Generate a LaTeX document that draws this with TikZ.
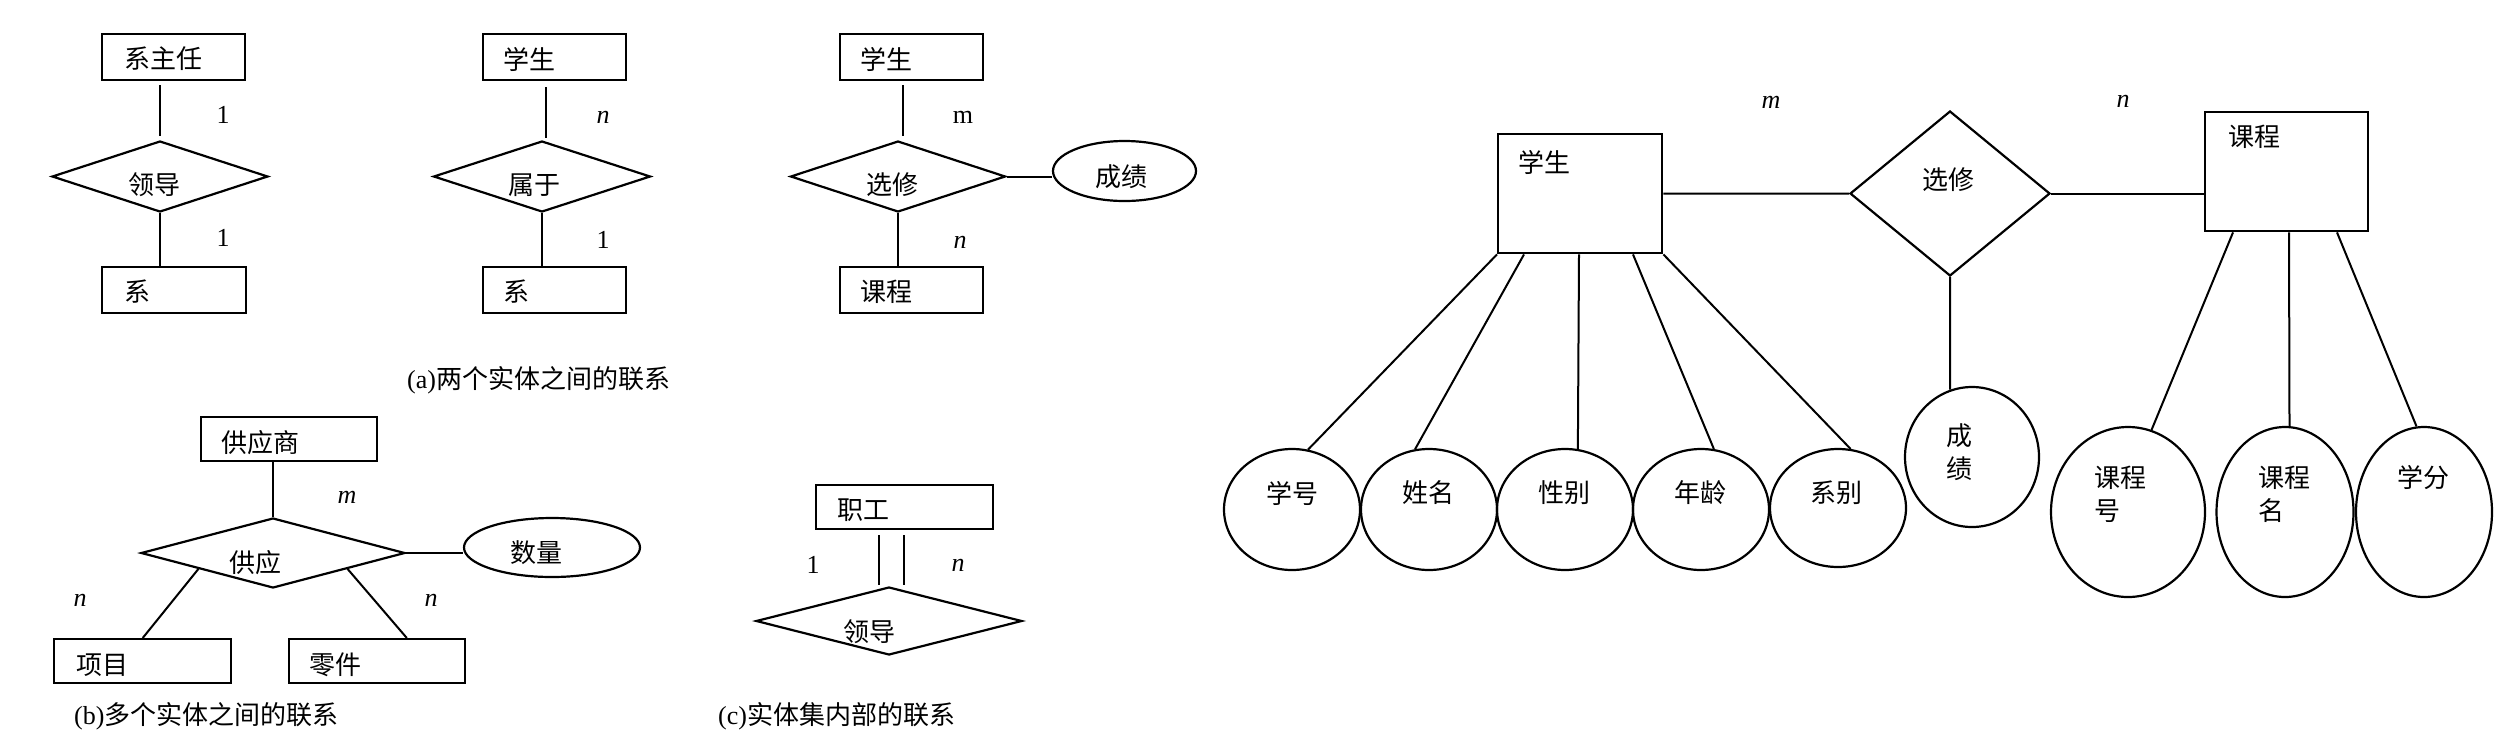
\documentclass[tikz,border=0pt]{standalone}
\usepackage{fontspec}
\setmainfont{Liberation Serif}
\newfontfamily\cjk{Noto Sans CJK SC}
\usetikzlibrary{shapes.geometric,calc}
\begin{document}
\begin{tikzpicture}[x=1pt,y=-1pt,
  font=\fontsize{26}{31}\selectfont,
  ent/.style={draw, rectangle, line width=2.4pt, inner sep=0pt, anchor=north west},
  rel/.style={draw, diamond, line width=2.2pt, inner sep=0pt},
  attr/.style={draw, ellipse, line width=2.2pt, inner sep=0pt},
  ln/.style={line width=2pt},
  ct/.style={inner sep=0pt, anchor=west, font=\cjk\fontsize{26}{34}\selectfont},
  cc/.style={inner sep=0pt, anchor=center, font=\cjk\fontsize{26}{34}\selectfont},
  ml/.style={inner sep=0pt, anchor=north west, align=left, font=\cjk\fontsize{26}{33}\selectfont},
  lab/.style={inner sep=0pt, anchor=center},
  captxt/.style={inner sep=0pt, anchor=base west, font=\fontsize{26}{31}\selectfont}
]
\path[use as bounding box, fill=white] (0,0) rectangle (2516,740);

% ---------- (a1) ----------
\node[ent, minimum width=143, minimum height=46] (zr) at (101,33) {};
\node[ct] (tzr) at (124,59) {系主任};
\node[rel, minimum width=216, minimum height=71] (d1) at (160,176.5) {};
\node[cc] (td1) at (154,185) {领导};
\node[ent, minimum width=144, minimum height=46] (x1) at (101,266) {};
\node[ct] (tx1) at (124,292) {系};
\draw[ln, shorten <=4pt, shorten >=4pt] (d1.north |- zr.south) -- (d1.north);
\draw[ln] (d1.south) -- (d1.south |- x1.north);
\node[lab] (l1a) at (223,115) {1};
\node[lab] (l1b) at (223,238) {1};

% ---------- (a2) ----------
\node[ent, minimum width=143, minimum height=46] (s2) at (482,33) {};
\node[ct] (ts2) at (503,59) {学生};
\node[rel, minimum width=217, minimum height=71] (d2) at (542,176.5) {};
\node[cc] (td2) at (534,185) {属于};
\node[ent, minimum width=143, minimum height=46] (x2) at (482,266) {};
\node[ct] (tx2) at (503,292) {系};
\draw[ln, shorten <=6pt, shorten >=2pt] ([xshift=4pt]d2.north |- s2.south) -- ([xshift=4pt]d2.north);
\draw[ln] (d2.south) -- (d2.south |- x2.north);
\node[lab] (l2a) at (603,117) {\itshape n};
\node[lab] (l2b) at (603,240) {1};

% ---------- (a3) ----------
\node[ent, minimum width=143, minimum height=46] (s3) at (839,33) {};
\node[ct] (ts3) at (860,59) {学生};
\node[rel, minimum width=215, minimum height=71] (d3) at (898,176.5) {};
\node[cc] (td3) at (892,185) {选修};
\node[ent, minimum width=143, minimum height=46] (k3) at (839,266) {};
\node[ct] (tk3) at (860,292) {课程};
\node[attr, minimum width=143, minimum height=60] (cj3) at (1124.5,171) {};
\node[cc] (tcj3) at (1121,177) {成绩};
\draw[ln, shorten <=4pt, shorten >=4pt] ([xshift=5pt]d3.north |- s3.south) -- ([xshift=5pt]d3.north);
\draw[ln] (d3.south) -- (d3.south |- k3.north);
\draw[ln] (d3.east) -- (d3.east -| cj3.west);
\node[lab] (l3a) at (963,117) {m};
\node[lab] (l3b) at (960,242) {\itshape n};

\node[captxt] (capa) at (407,388) {(a)\cjk 两个实体之间的联系};

% ---------- (b) ----------
\node[ent, minimum width=176, minimum height=44] (gys) at (199.5,416) {};
\node[ct] (tgys) at (221,443) {供应商};
\node[rel, minimum width=264, minimum height=70] (d4) at (273,553) {};
\node[cc] (td4) at (255,563) {供应};
\node[attr, minimum width=176, minimum height=59] (sl) at (552,547.5) {};
\node[cc] (tsl) at (536,553) {数量};
\node[ent, minimum width=177, minimum height=44] (xm) at (53,638) {};
\node[ct] (txm) at (76,665) {项目};
\node[ent, minimum width=176.5, minimum height=44] (lj) at (287.5,638) {};
\node[ct] (tlj) at (309,665) {零件};
\draw[ln] (d4.north |- gys.south) -- (d4.north);
\draw[ln] (d4.east) -- (d4.east -| sl.west);
\draw[ln] ($(d4.west)!0.44!(d4.south)$) -- (xm.north);
\draw[ln] ($(d4.south)!0.56!(d4.east)$) -- ($(lj.north west)!0.667!(lj.north east)$);
\node[lab] (l4a) at (347,497) {\itshape m};
\node[lab] (l4b) at (80,600) {\itshape n};
\node[lab] (l4c) at (431,600) {\itshape n};
\node[captxt] (capb) at (74,724) {(b)\cjk 多个实体之间的联系};

% ---------- (c) ----------
\node[ent, minimum width=177, minimum height=44] (zg) at (815,484) {};
\node[ct] (tzg) at (837,510) {职工};
\node[rel, minimum width=266, minimum height=68] (d6) at (889,621) {};
\node[cc] (td6) at (869,632) {领导};
\draw[ln] ($(zg.south)+(-25.5,5)$) -- ($(zg.south)+(-25.5,55)$);
\draw[ln] ($(zg.south)+(-0.5,5)$) -- ($(zg.south)+(-0.5,55)$);
\node[lab] (l6a) at (813,565) {1};
\node[lab] (l6b) at (958,565) {\itshape n};
\node[captxt] (capc) at (718,724) {(c)\cjk 实体集内部的联系};

% ---------- big ER ----------
\node[ent, minimum width=164, minimum height=119] (sb) at (1497,133) {};
\node[ct] (tsb) at (1518,162) {学生};
\node[rel, minimum width=200, minimum height=165] (d5) at (1950,193.5) {};
\node[cc] (td5) at (1948,180) {选修};
\node[ent, minimum width=163, minimum height=119] (cb) at (2204,111) {};
\node[ct] (tcb) at (2228,137) {课程};
\node[lab] (l5a) at (1771,102) {\itshape m};
\node[lab] (l5b) at (2123,101) {\itshape n};
\draw[ln] (sb.east) -- (d5.west);
\draw[ln] (d5.east) -- (d5.east -| cb.west);

\node[attr, minimum width=134, minimum height=140] (cj5) at (1972,457) {};
\node[ml] (tcj5) at (1946,423) {成\\绩};
\draw[ln] (d5.south) -- (cj5.108);

\node[attr, minimum width=136, minimum height=121] (a1) at (1292,509.5) {};
\node[attr, minimum width=136, minimum height=121] (a2) at (1429,509.5) {};
\node[attr, minimum width=136, minimum height=121] (a3) at (1565,509.5) {};
\node[attr, minimum width=136, minimum height=121] (a4) at (1701,509.5) {};
\node[attr, minimum width=136, minimum height=118] (a5) at (1838,508) {};
\node[cc] (ta1) at (1292,493) {学号};
\node[cc] (ta2) at (1428,493) {姓名};
\node[cc] (ta3) at (1564,493) {性别};
\node[cc] (ta4) at (1700,493) {年龄};
\node[cc] (ta5) at (1836,493) {系别};
\draw[ln] (sb.south west) -- (a1.75);
\draw[ln] ($(sb.south west)+(27,0)$) -- (a2.103);
\draw[ln] ($(sb.south west)+(82,0)$) -- (a3.78);
\draw[ln] ($(sb.south west)+(136,0)$) -- (a4.78);
\draw[ln] (sb.south east) -- (a5.78);

\node[attr, minimum width=154, minimum height=170] (k1) at (2128,512) {};
\node[attr, minimum width=137, minimum height=170] (k2) at (2285,512) {};
\node[attr, minimum width=136, minimum height=170] (k3b) at (2424,512) {};
\node[ml] (tk1) at (2094,466) {课程\\号};
\node[ml] (tk2) at (2258,466) {课程\\名};
\node[cc] (tk3b) at (2423,478) {学分};
\draw[ln] ($(cb.south west)+(29,0)$) -- (k1.74);
\draw[ln] ($(cb.south west)+(85,0)$) -- (k2.87);
\draw[ln] ($(cb.south west)+(133,0)$) -- (k3b.95);
\end{tikzpicture}
\end{document}
